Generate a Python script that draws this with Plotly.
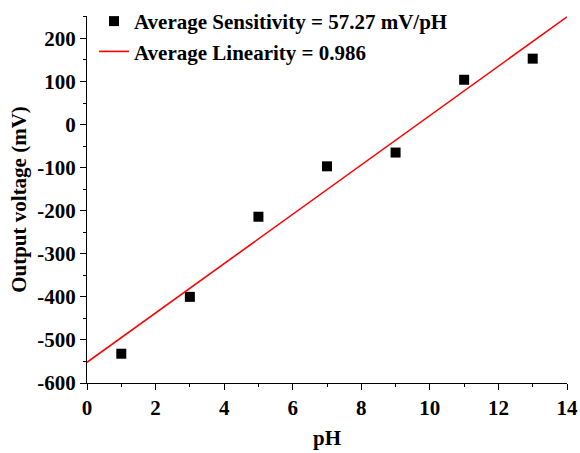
import plotly.graph_objects as go

ph = [1, 3, 5, 7, 9, 11, 13]
voltage = [-532, -400, -214, -97, -65, 104, 153]
fit_x = [0, 14]
fit_y = [-552, 250]
x_ticks = [0, 2, 4, 6, 8, 10, 12, 14]
y_ticks = [-600, -500, -400, -300, -200, -100, 0, 100, 200]
y_ticktext = ["-600", "-500", "-400", "-300", "-200", "-100", "0", "100", "200"]

font_family = "Liberation Serif"
fs = 21

fig = go.Figure()
fig.add_trace(go.Scatter(
    x=ph, y=voltage, mode="markers",
    marker=dict(symbol="square", size=10, color="black"),
    name="<b>Average Sensitivity = 57.27 mV/pH</b>",
))
fig.add_trace(go.Scatter(
    x=fit_x, y=fit_y, mode="lines",
    line=dict(color="red", width=1.6),
    name="<b>Average Linearity = 0.986</b>",
))

axis_common = dict(
    showline=True, linecolor="black", linewidth=1.3,
    ticks="outside", ticklen=6, tickwidth=1.3, tickcolor="black",
    showgrid=False, zeroline=False, mirror=False, automargin=False,
    tickfont=dict(family=font_family, size=fs, color="black", weight="bold"),
)

fig.update_layout(
    width=580, height=453,
    margin=dict(l=87, r=13, t=16, b=70, autoexpand=False),
    plot_bgcolor="white", paper_bgcolor="white",
    font=dict(family=font_family, color="black"),
    showlegend=True,
    legend=dict(
        x=0.0146, y=1.041,
        xanchor="left", yanchor="top",
        bgcolor="rgba(0,0,0,0)",
        font=dict(family=font_family, size=fs, color="black"),
        tracegroupgap=0, itemwidth=30,
    ),
    xaxis=dict(
        range=[0, 14], tickmode="array", tickvals=x_ticks,
        ticktext=[str(v) for v in x_ticks],
        minor=dict(ticks="outside", ticklen=3, tickwidth=1.3, tickcolor="black", dtick=1, tick0=0),
        title=dict(text="<b>pH</b>", font=dict(family=font_family, size=fs, color="black"), standoff=10),
        **axis_common,
    ),
    yaxis=dict(
        range=[-600, 252], tickmode="array", tickvals=y_ticks, ticktext=y_ticktext,
        minor=dict(ticks="outside", ticklen=3, tickwidth=1.3, tickcolor="black", dtick=50, tick0=0),
        title=dict(text="<b>Output voltage (mV)</b>", font=dict(family=font_family, size=fs, color="black"), standoff=4),
        **axis_common,
    ),
)

fig.write_html("out.html", config={"displayModeBar": False},
               post_script="document.body.style.margin='0';")
